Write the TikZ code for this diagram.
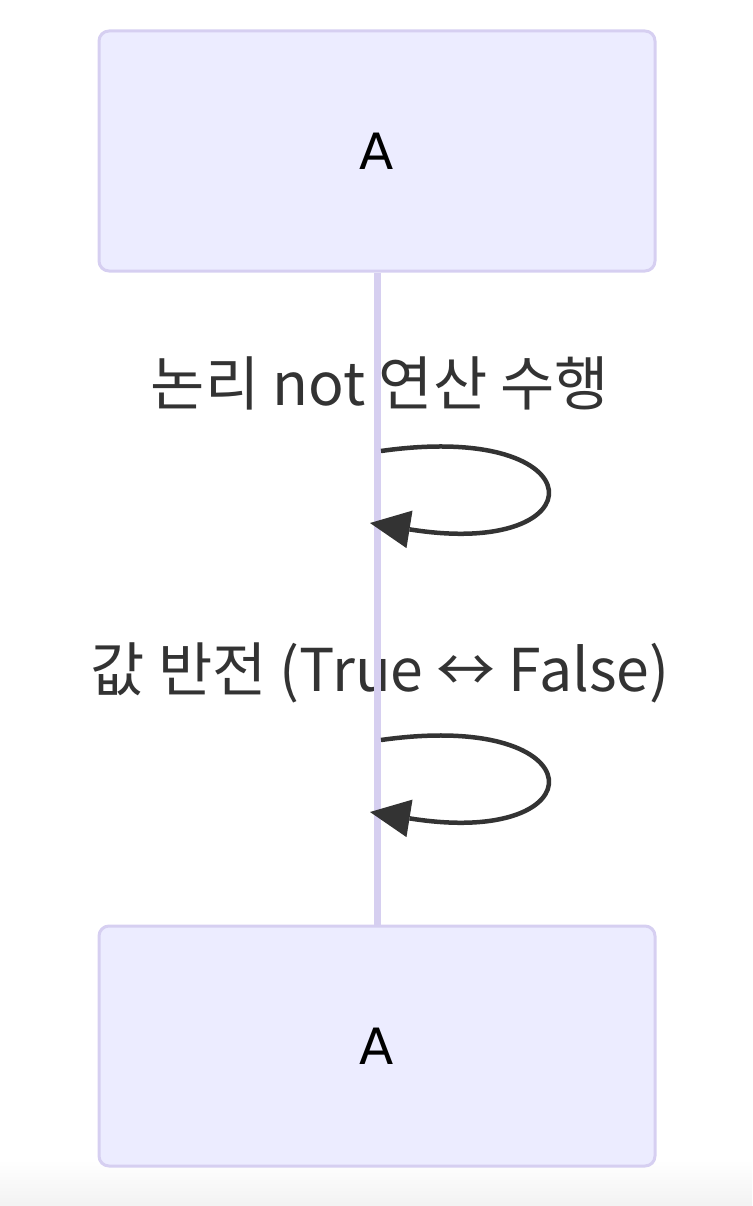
\documentclass[tikz,border=0pt]{standalone}
\usepackage{fontspec}
\usetikzlibrary{arrows.meta}
\newfontfamily\cjk{Noto Sans CJK KR}
\newfontfamily\actorfont{DejaVu Sans}
\definecolor{actfill}{HTML}{ECECFF}
\definecolor{actline}{HTML}{D6CFF1}
\definecolor{lifecol}{HTML}{D6CFF0}
\definecolor{ink}{HTML}{333333}
\begin{document}
\begin{tikzpicture}[x=1pt,y=-1pt,
  actor/.style={draw=actline,fill=actfill,line width=3pt,rounded corners=10pt,
    minimum width=556pt,minimum height=240pt,inner sep=0pt,
    font=\actorfont\fontsize{50}{60}\selectfont,text=black},
  msgtext/.style={font=\cjk\fontsize{59}{68}\selectfont,text=ink,inner sep=0pt},
  lifeline/.style={draw=lifecol,line width=7pt},
  selfmsg/.style={draw=ink,line width=4.5pt,-{Triangle[length=40pt,width=38pt,line width=0pt]}}]
\useasboundingbox (0,0) rectangle (752,1206);
\shade[top color=white,bottom color=black!5,draw=none] (0,1160) rectangle (752,1206);
\node[actor] (top) at (377,151) {A};
\node[actor] (bot) at (377,1046) {A};
\node[msgtext] (m1) at (380,383) {논리 not 연산 수행};
\node[msgtext] (m2) at (380,673) {값 반전 (True ↔ False)};
\draw[lifeline] (top.south) -- (bot.north);
\coordinate (s1) at (381,451);
\coordinate (e1) at (370,523);
\coordinate (s2) at (381,740);
\coordinate (e2) at (370,812);
\draw[selfmsg] (s1) .. controls (600,420) and (600,560) .. (e1);
\draw[selfmsg] (s2) .. controls (600,709) and (600,849) .. (e2);
\end{tikzpicture}
\end{document}
